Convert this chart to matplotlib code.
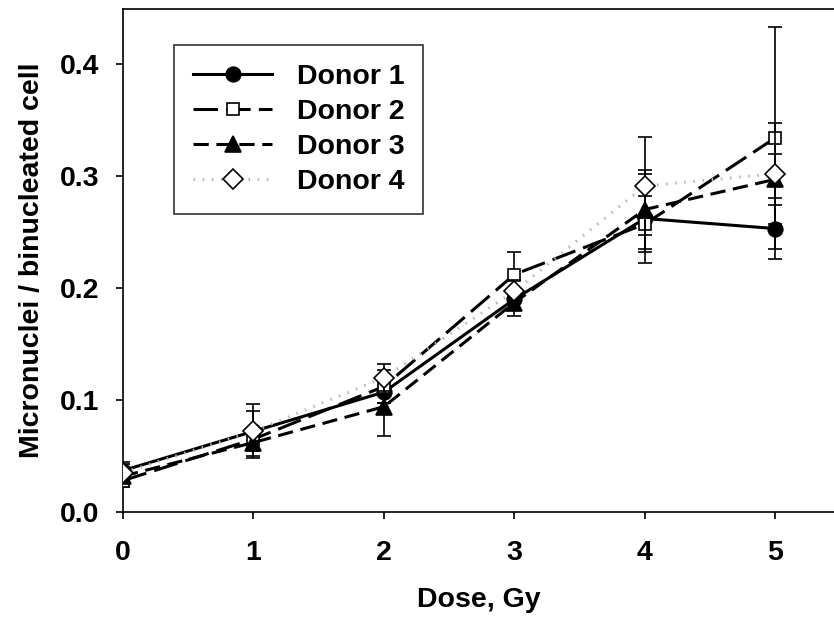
import matplotlib.pyplot as plt

plt.rcParams['font.family'] = ['Liberation Sans', 'DejaVu Sans']
plt.rcParams['font.weight'] = 'bold'

dose = [0, 1, 2, 3, 4, 5]

donor1 = [0.037, 0.072, 0.107, 0.190, 0.262, 0.253]
donor2 = [0.028, 0.065, 0.112, 0.212, 0.257, 0.334]
donor3 = [0.032, 0.062, 0.094, 0.187, 0.270, 0.297]
donor4 = [0.035, 0.072, 0.120, 0.197, 0.291, 0.302]

err1 = [0.008, 0.024, 0.010, 0.010, 0.040, 0.027]
err2 = [0.006, 0.010, 0.015, 0.020, 0.025, 0.099]
err3 = [0.006, 0.012, 0.026, 0.012, 0.035, 0.023]
err4 = [0.008, 0.018, 0.012, 0.010, 0.044, 0.045]

labels = ['Donor 1', 'Donor 2', 'Donor 3', 'Donor 4']

fig = plt.figure(figsize=(8.34, 6.17), dpi=100)
ax = fig.add_axes([0.1475, 0.1702, 0.8525, 0.8152])

series = [donor1, donor2, donor3, donor4]
errs = [err1, err2, err3, err4]
styles = [
    dict(color='black', linestyle='-', marker='o', ms=10.5, mfc='black', mec='black'),
    dict(color='black', linestyle=(0, (8, 2.7)), marker='s', ms=9, mfc='white', mec='black'),
    dict(color='black', linestyle=(0, (5, 2.5)), marker='^', ms=11, mfc='black', mec='black'),
    dict(color='#b5b5b5', linestyle=(0, (0.5, 2.5)), marker='D', ms=10, mfc='white', mec='black'),
]

for i in range(4):
    ax.errorbar(dose, series[i], yerr=errs[i], fmt='none', ecolor='black',
                elinewidth=1.2, capsize=4.7, capthick=1.2, zorder=2 + i)
    ax.plot(dose, series[i], lw=2.2, mew=1.2, label=labels[i], zorder=2 + i, **styles[i])

ax.set_xlim(0, 5.45)
ax.set_ylim(0, 0.449)
ax.set_xticks(dose)
ax.set_yticks([0.0, 0.1, 0.2, 0.3, 0.4])
ax.set_yticklabels(['0.0', '0.1', '0.2', '0.3', '0.4'])
ax.spines['right'].set_visible(False)
for s in ax.spines.values():
    s.set_linewidth(1.2)
ax.tick_params(axis='both', labelsize=20.5, length=5, width=1.2, direction='out')
ax.tick_params(axis='x', pad=15)
ax.tick_params(axis='y', pad=12)

ax.set_xlabel('Dose, Gy', fontsize=20.5, fontweight='bold', labelpad=15)
ax.set_ylabel('Micronuclei / binucleated cell', fontsize=20.5, fontweight='bold', labelpad=11)

leg = ax.legend(loc='upper left', bbox_to_anchor=(0.072, 0.928), borderaxespad=0,
                fontsize=20.5, frameon=True, fancybox=False, handlelength=2.8,
                handletextpad=0.85, labelspacing=0.32, borderpad=0.65)
leg.get_frame().set_edgecolor('black')
leg.get_frame().set_linewidth(1.2)
for t in leg.get_texts():
    t.set_fontweight('bold')

plt.savefig('out.png', dpi=100)
